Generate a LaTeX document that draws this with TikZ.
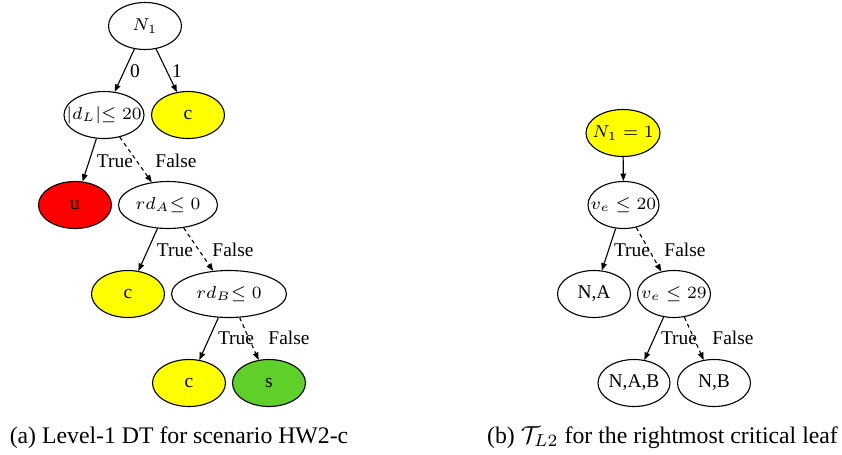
\documentclass[tikz,border=0pt]{standalone}
\usepackage{fontspec}
\setmainfont{Liberation Serif}
\usetikzlibrary{arrows.meta,shapes.geometric}
\def\pxu{0.4065pt}
\newcommand\zbox[1]{\makebox[0pt]{#1}}
\newcommand\mzbox[1]{\makebox[0pt]{\fontsize{7.4}{9}\selectfont#1}}
\definecolor{leafyellow}{RGB}{255,255,0}
\definecolor{leafred}{RGB}{255,0,0}
\definecolor{leafgreen}{RGB}{95,208,42}
\begin{document}
\begin{tikzpicture}[x=0.4065pt,y=-0.4065pt,
  font=\fontsize{7.9}{9.5}\selectfont,
  tn/.style={ellipse,draw,line width=0.45pt,inner sep=0pt,minimum height=47*\pxu,minimum width=73*\pxu},
  leaf/.style={tn},
  edge/.style={line width=0.45pt,-{Triangle[length=3pt,width=2.3pt]}},
  fedge/.style={edge,dash pattern=on 1.6pt off 1.4pt},
  lbl/.style={inner sep=0pt},
  captext/.style={inner sep=0pt,anchor=base,font=\fontsize{9.66}{11.6}\selectfont}]
\useasboundingbox (0,0) rectangle (842,454);
% left tree
\node[tn] (N1) at (145,26) {\mzbox{$N_1$}};
\node[tn,minimum width=80*\pxu] (dL) at (104,115) {\mzbox{$|d_L|{\leq}\;20$}};
\node[leaf,fill=leafyellow] (c1) at (188,115) {\zbox{c}};
\node[leaf,fill=leafred] (u) at (75,205) {\zbox{u}};
\node[tn,minimum width=99*\pxu] (rdA) at (168,205) {\mzbox{$rd_A{\leq}\;0$}};
\node[leaf,fill=leafyellow] (c2) at (128,294) {\zbox{c}};
\node[tn,minimum width=115*\pxu] (rdB) at (229,294) {\mzbox{$rd_B{\leq}\;0$}};
\node[leaf,fill=leafyellow] (c3) at (189,383) {\zbox{c}};
\node[leaf,fill=leafgreen] (s) at (269,383) {\zbox{s}};
\draw[edge] (N1) -- (dL);
\draw[edge] (N1) -- (c1);
\draw[edge] (dL) -- (u);
\draw[fedge] (dL) -- (rdA);
\draw[edge] (rdA) -- (c2);
\draw[fedge] (rdA) -- (rdB);
\draw[edge] (rdB) -- (c3);
\draw[fedge] (rdB) -- (s);
\node[lbl] (l0) at (135,71) {0};
\node[lbl] (l1) at (177,71) {1};
\node[lbl] (t1) at (115,161) {True};
\node[lbl] (f1) at (176,161) {False};
\node[lbl] (t2) at (175,250) {True};
\node[lbl] (f2) at (233,250) {False};
\node[lbl] (t3) at (236,338) {True};
\node[lbl] (f3) at (289,338) {False};
% right tree
\node[tn,fill=leafyellow,minimum width=74*\pxu] (R1) at (623,133) {\mzbox{$N_1=1$}};
\node[tn,minimum width=71*\pxu] (ve20) at (623.5,205) {\mzbox{$v_e\leq 20$}};
\node[leaf] (NA) at (594,294) {\zbox{N,A}};
\node[tn] (ve29) at (674,294) {\mzbox{$v_e\leq 29$}};
\node[leaf,minimum width=72*\pxu] (NAB) at (634,383) {\zbox{N,A,B}};
\node[leaf] (NB) at (714,383) {\zbox{N,B}};
\draw[edge] (R1) -- (ve20);
\draw[edge] (ve20) -- (NA);
\draw[fedge] (ve20) -- (ve29);
\draw[edge] (ve29) -- (NAB);
\draw[fedge] (ve29) -- (NB);
\node[lbl] (t4) at (632,250) {True};
\node[lbl] (f4) at (685,250) {False};
\node[lbl] (t5) at (679,338) {True};
\node[lbl] (f5) at (733,338) {False};
% captions
\node[captext] (capa) at (179,443) {(a) Level-1 DT for scenario HW2-c};
\node[captext] (capb) at (662.5,443) {(b) $\mathcal{T}_{L2}$ for the rightmost critical leaf};
\end{tikzpicture}
\end{document}
